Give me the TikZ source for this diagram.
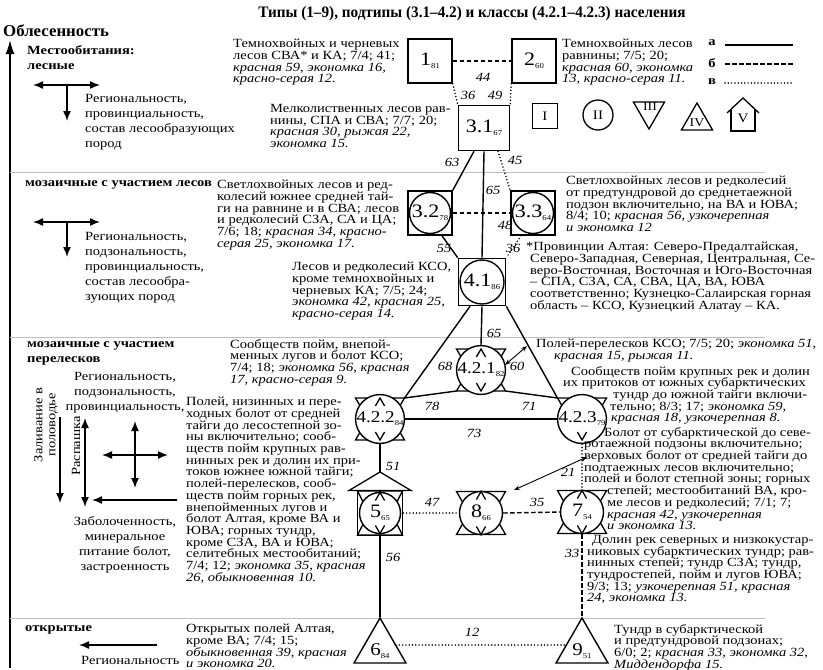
\documentclass[tikz,border=0pt]{standalone}
\usepackage{fontspec}
\setmainfont{Liberation Serif}[FakeStretch=1.16]
\newfontfamily\headfont{Liberation Serif}[FakeStretch=0.95]
\newfontfamily\oblfont{Liberation Serif}[FakeStretch=1.02]
\usetikzlibrary{arrows.meta,backgrounds,calc,shapes.geometric}
\pgfdeclarelayer{bottom}
\pgfsetlayers{bottom,background,main}
\newcommand{\NL}[2]{#1\raisebox{-3pt}{\fontsize{7.5}{7.5}\selectfont #2}}
\newcommand{\TrD}[3]{\begin{scope}[on background layer,shift={(#1.center)}]\draw[decor] (-#3,-#2) -- (#3,-#2) -- (0,#2) -- cycle;\end{scope}}
\newcommand{\TrU}[3]{\begin{scope}[on background layer,shift={(#1.center)}]\draw[decor] (-#3,#2) -- (#3,#2) -- (0,-#2) -- cycle;\end{scope}}
\newcommand{\MkV}[2]{\begin{scope}[shift={(#1.center)}]\draw[decor] (-4.6,#2-8) -- (0,#2) -- (4.6,#2-8);\end{scope}}
\newcommand{\MkA}[2]{\begin{scope}[shift={(#1.center)}]\draw[decor] (-4.6,-#2+8) -- (0,-#2) -- (4.6,-#2+8);\end{scope}}
\begin{document}
\begin{tikzpicture}[x=1pt,y=-1pt,
 every node/.style={inner sep=0pt},
 sq/.style={draw,line width=1.6pt,fill=white,minimum width=44pt,minimum height=44pt,font=\fontsize{19}{19}\selectfont},
 ci/.style={draw,circle,line width=1.4pt,fill=white,minimum size=42pt,font=\fontsize{16.5}{16.5}\selectfont},
 tri/.style={draw,regular polygon,regular polygon sides=3,line width=1.4pt,minimum size=60pt},
 solidc/.style={line width=1.4pt},
 dashc/.style={line width=1.4pt,dash pattern=on 4.5pt off 2.5pt},
 dotc/.style={line width=1.7pt,line cap=round,dash pattern=on 0pt off 3.3pt},
 lab/.style={font=\fontsize{12.5}{12}\selectfont\itshape},
 desc/.style={font=\fontsize{12.5}{11.7}\selectfont,align=left,anchor=north west},
 note/.style={font=\fontsize{12.5}{15}\selectfont,align=left,anchor=north west},
 hd/.style={font=\fontsize{12.5}{15}\selectfont\bfseries,align=left,anchor=north west},
 ttl/.style={font=\headfont\bfseries\fontsize{16}{16}\selectfont},
 sep/.style={gray!50,line width=0.8pt},
 arr/.style={line width=1.5pt,-{Latex[length=10pt,width=8pt]}},
 darr/.style={line width=1.5pt,{Latex[length=10pt,width=8pt]}-{Latex[length=10pt,width=8pt]}},
 tarr/.style={line width=0.9pt,{Stealth[length=6pt,width=4.5pt]}-{Stealth[length=6pt,width=4.5pt]}},
 decor/.style={line width=1.3pt,line join=miter},
]
\useasboundingbox (0,0) rectangle (823,670);
\begin{pgfonlayer}{bottom}
\fill[white] (0,0) rectangle (823,670);
\end{pgfonlayer}

% title and axis
\node[ttl] (title) at (472,14) {Типы (1–9), подтипы (3.1–4.2) и классы (4.2.1–4.2.3) населения};
\node[font=\oblfont\bfseries\fontsize{16.5}{16}\selectfont,anchor=west] (obl) at (3,31) {Облесенность};
\coordinate (ax0) at (10,668);
\coordinate (ax1) at (10,40);
\draw[line width=1.8pt,-{Latex[length=14pt,width=9pt]}] (ax0) -- (ax1);

% separators
\coordinate (s1a) at (10,172); \coordinate (s1b) at (765,172);
\coordinate (s2a) at (10,337); \coordinate (s2b) at (765,337);
\coordinate (s3a) at (10,618); \coordinate (s3b) at (765,618);
\draw[sep] (s1a) -- (s1b);
\draw[sep] (s2a) -- (s2b);
\draw[sep] (s3a) -- (s3b);

% ---------- section 1 left
\node[hd] (h1) at (27,45) {Местообитания:\\лесные};
\coordinate (t1l) at (33,85); \coordinate (t1r) at (100,85);
\coordinate (t1c) at (67,85); \coordinate (t1d) at (67,121);
\draw[darr] (t1l) -- (t1r);
\draw[arr] (t1c) -- (t1d);
\node[note] (r1) at (85,94) {Региональность,\\провинциальность,\\состав лесообразующих\\пород};

% ---------- section 2 left
\node[hd] (h2) at (25,180) {мозаичные с участием лесов};
\coordinate (t2l) at (33,222); \coordinate (t2r) at (100,222);
\coordinate (t2c) at (67,222); \coordinate (t2d) at (67,257);
\draw[darr] (t2l) -- (t2r);
\draw[arr] (t2c) -- (t2d);
\node[note] (r2) at (85,232) {Региональность,\\подзональность,\\провинциальность,\\состав лесообра-\\зующих пород};

% ---------- section 3 left
\node[hd] (h3) at (27,341) {мозаичные с участием\\перелесков};
\node[note,align=center,anchor=north] (r3) at (125,372) {Региональность,\\подзональность,\\провинциальность,};
\node[font=\fontsize{12.5}{13}\selectfont,rotate=90,align=center] (zal) at (46,425) {Заливание в\\половодье};
\node[font=\fontsize{12.5}{13}\selectfont,rotate=90] (rasp) at (76,446) {Распашка};
\coordinate (d1a) at (60,417); \coordinate (d1b) at (60,503);
\draw[arr] (d1a) -- (d1b);
\coordinate (d2a) at (85,418); \coordinate (d2b) at (85,507);
\draw[darr] (d2a) -- (d2b);
\coordinate (c1a) at (102,455); \coordinate (c1b) at (168,455);
\coordinate (c2a) at (135,421); \coordinate (c2b) at (135,488);
\draw[darr] (c1a) -- (c1b);
\draw[darr] (c2a) -- (c2b);
\coordinate (l3a) at (177,500); \coordinate (l3b) at (92,500);
\draw[arr] (l3a) -- (l3b);
\node[note,align=center,anchor=north] (z3) at (125,516) {Заболоченность,\\минеральное\\питание болот,\\застроенность};

% ---------- section 4 left
\node[hd,anchor=west] (h4) at (25,630) {открытые};
\coordinate (l4a) at (157,645); \coordinate (l4b) at (79,645);
\draw[arr] (l4a) -- (l4b);
\node[font=\fontsize{12.5}{13}\selectfont,anchor=west] (r4) at (81,660) {Региональность};

% ---------- legend
\node[font=\fontsize{12.5}{12}\selectfont\bfseries] (la) at (712,43) {а};
\node[font=\fontsize{12.5}{12}\selectfont\bfseries] (lb) at (712,63) {б};
\node[font=\fontsize{12.5}{12}\selectfont\bfseries] (lc) at (712,82) {в};
\coordinate (la1) at (725,45); \coordinate (la2) at (793,45);
\coordinate (lb1) at (725,64); \coordinate (lb2) at (793,64);
\coordinate (lc1) at (725,83); \coordinate (lc2) at (793,83);
\draw[solidc] (la1) -- (la2);
\draw[dashc] (lb1) -- (lb2);
\draw[dotc] (lc1) -- (lc2);
\node[draw,line width=1.3pt,minimum size=25pt,font=\fontsize{13}{13}\selectfont] (lg1) at (545,116) {I};
\node[draw,circle,line width=1.3pt,minimum size=30pt,font=\fontsize{13}{13}\selectfont] (lg2) at (598,115) {II};
\node[draw,regular polygon,regular polygon sides=3,shape border rotate=180,line width=1.3pt,minimum size=36pt] (lg3) at (649,111) {};
\node[font=\fontsize{12}{12}\selectfont] (lg3t) at (650,107) {III};
\node[draw,regular polygon,regular polygon sides=3,line width=1.3pt,minimum size=36pt] (lg4) at (697,121) {};
\node[font=\fontsize{12}{12}\selectfont] (lg4t) at (697,123) {IV};
\draw[decor] (727,113) -- (743,98) -- (759,113);
\draw[decor] (731,109.3) -- (731,131) -- (755,131) -- (755,109.3);
\node[font=\fontsize{13}{13}\selectfont] (lg5) at (743,118) {V};

% ---------- symbols
\node[sq] (n1) at (430,61) {\NL{1}{81}};
\node[sq] (n2) at (534,61) {\NL{2}{60}};
\node[sq,minimum width=51pt,minimum height=45pt] (n31) at (484,128) {\NL{3.1}{67}};
\node[sq] (n32) at (430,213) {};
\node[ci,minimum size=41pt,font=\fontsize{19}{19}\selectfont] (c32) at (n32.center) {\NL{3.2}{78}};
\node[sq] (n33) at (533,213) {};
\node[ci,minimum size=41pt,font=\fontsize{19}{19}\selectfont] (c33) at (n33.center) {\NL{3.3}{64}};
\node[sq,minimum width=47pt,minimum height=47pt] (n41) at (482,282) {};
\node[ci,minimum size=44pt,font=\fontsize{19}{19}\selectfont] (c41) at (n41.center) {\NL{4.1}{86}};

\node[ci] (n421) at (481,370) {\NL{4.2.1}{82}};
\TrD{n421}{21}{24.5}\TrU{n421}{21}{24.5}\MkV{n421}{21}\MkA{n421}{21}
\node[ci] (n422) at (380,419) {\NL{4.2.2}{84}};
\TrD{n422}{21}{24.5}\TrU{n422}{21}{24.5}\MkV{n422}{21}\MkA{n422}{21}
\node[ci] (n423) at (582,419) {\NL{4.2.3}{79}};
\TrD{n423}{21}{24.5}\MkV{n423}{21}

\node[draw,line width=1.6pt,minimum size=45pt] (n5) at (380,513) {};
\node[ci,minimum size=41pt,font=\fontsize{19}{19}\selectfont] (c5) at (n5.center) {\NL{5}{65}};
\TrD{n5}{22}{22.5}\TrU{n5}{22}{22.5}\MkV{c5}{20.5}\MkA{c5}{20.5}
\coordinate (r5) at (380,472);
\coordinate (r5l) at (349,490.5);
\coordinate (r5r) at (411,490.5);
\draw[decor] (r5l) -- (r5) -- (r5r) -- cycle;

\node[ci,minimum size=43pt,font=\fontsize{19}{19}\selectfont] (n8) at (481,513) {\NL{8}{66}};
\TrD{n8}{21.5}{24.5}\TrU{n8}{21.5}{24.5}\MkV{n8}{21.5}\MkA{n8}{21.5}
\node[ci,minimum size=43pt,font=\fontsize{19}{19}\selectfont] (n7) at (582,512) {\NL{7}{54}};
\TrD{n7}{21.5}{24.5}\TrU{n7}{21.5}{24.5}\MkV{n7}{21.5}\MkA{n7}{21.5}

\node[tri] (n6) at (380,648) {};
\node[font=\fontsize{18}{18}\selectfont] (n6t) at (380,651) {\NL{6}{84}};
\node[tri] (n9) at (582,648) {};
\node[font=\fontsize{18}{18}\selectfont] (n9t) at (582,651) {\NL{9}{51}};

% corner coordinates
\coordinate (n422ne) at (404.5,398);
\coordinate (n421sw) at (456.5,391);
\coordinate (n421se) at (505.5,391);
\coordinate (n423nw) at (557.5,398);
\coordinate (e6) at (396,645);
\coordinate (w9) at (566,645);

% ---------- connectors
\draw[dashc] (n1.east) -- (n2.west);
\draw[dotc] (n1.south east) -- (n31.north west);
\draw[dotc] (n2.south west) -- (n31.north east);
\draw[solidc] ([xshift=-10pt]n31.south) -- (n32.north east);
\draw[solidc] (n31.south) -- (n41.north);
\draw[dotc] ([xshift=14pt]n31.south) -- (n33.north west);
\draw[dashc] (n32.east) -- (n33.west);
\draw[solidc] ([xshift=12pt]n32.south) -- (n41.north west);
\draw[dotc] ([xshift=-12pt]n33.south) -- (n41.north east);
\draw[solidc] (n41.south) -- (n421.north);
\draw[solidc] ([xshift=-12pt]n41.south) -- (n422ne);
\draw[solidc] (n41.south east) -- (n423nw);
\draw[solidc] (n422ne) -- (n421sw);
\draw[solidc] (n421se) -- (n423nw);
\draw[solidc] (n422.east) -- (n423.west);
\draw[solidc] (n422.south) -- (r5);
\draw[solidc] (n5.south) -- (n6.corner 1);
\draw[dotc] (n5.east) -- (n8.west);
\draw[dashc] (n8.east) -- (n7.west);
\draw[dotc] (n423.south) -- (n7.north);
\draw[dashc] (n7.south) -- (n9.corner 1);
\draw[dotc] (e6) -- (w9);
\coordinate (a1s) at (505,365); \coordinate (a1e) at (527,346);
\draw[tarr] (a1s) -- (a1e);
\coordinate (a2s) at (514,490); \coordinate (a2e) at (587,457);
\draw[tarr] (a2s) -- (a2e);

% ---------- connector labels
\node[lab] (q44) at (483,77) {44};
\node[lab] (q36a) at (468,95) {36};
\node[lab] (q49) at (495,95) {49};
\node[lab] (q63) at (452,162) {63};
\node[lab] (q45) at (515,160) {45};
\node[lab] (q65a) at (493,190) {65};
\node[lab] (q48) at (505,225) {48};
\node[lab] (q55) at (444,248) {55};
\node[lab] (q36b) at (513,248) {36};
\node[lab] (q65b) at (494,333) {65};
\node[lab] (q68) at (445,366) {68};
\node[lab] (q60) at (517,366) {60};
\node[lab] (q78) at (432,406) {78};
\node[lab] (q71) at (529,406) {71};
\node[lab] (q73) at (474,433) {73};
\node[lab] (q51) at (393,466) {51};
\node[lab] (q47) at (432,502) {47};
\node[lab] (q35) at (537,502) {35};
\node[lab] (q21) at (568,472) {21};
\node[lab] (q56) at (393,557) {56};
\node[lab] (q33) at (572,553) {33};
\node[lab] (q12) at (472,632) {12};

% ---------- descriptions
\node[desc] (A1) at (233,39) {Темнохвойных и черневых\\лесов СВА* и КА; 7/4; 41;\\\textit{красная 59, экономка 16,}\\\textit{красно-серая 12.}};
\node[desc] (A2) at (562,39) {Темнохвойных лесов\\равнины; 7/5; 20;\\\textit{красная 60, экономка}\\\textit{13, красно-серая 11.}};
\node[desc] (A3) at (270,104) {Мелколиственных лесов рав-\\нины, СПА и СВА; 7/7; 20;\\\textit{красная 30, рыжая 22,}\\\textit{экономка 15.}};
\node[desc] (B1) at (217,180) {Светлохвойных лесов и ред-\\колесий южнее средней тай-\\ги на равнине и в СВА; лесов\\и редколесий СЗА, СА и ЦА;\\7/6; 18; \textit{красная 34, красно-}\\\textit{серая 25, экономка 17.}};
\node[desc] (B3) at (566,176) {Светлохвойных лесов и редколесий\\от предтундровой до среднетаежной\\подзон включительно, на ВА и ЮВА;\\8/4; 10; \textit{красная 56, узкочерепная}\\\textit{и экономка 12}};
\node[desc] (FN) at (526,242) {*Провинции Алтая: Северо-Предалтайская,\\\hspace*{4pt}Северо-Западная, Северная, Центральная, Се-\\\hspace*{4pt}веро-Восточная, Восточная и Юго-Восточная\\\hspace*{4pt}– СПА, СЗА, СА, СВА, ЦА, ВА, ЮВА\\\hspace*{4pt}соответственно; Кузнецко-Салаирская горная\\\hspace*{4pt}область – КСО, Кузнецкий Алатау – КА.};
\node[desc] (B2) at (292,262) {Лесов и редколесий КСО,\\кроме темнохвойных и\\черневых КА; 7/5; 24;\\\textit{экономка 42, красная 25,}\\\textit{красно-серая 14.}};
\node[desc] (C1) at (230,339) {Сообществ пойм, внепой-\\менных лугов и болот КСО;\\7/4; 18; \textit{экономка 56, красная}\\\textit{17, красно-серая 9.}};
\node[desc] (C2) at (536,339) {Полей-перелесков КСО; 7/5; 20; \textit{экономка 51,}\\\hspace*{18pt}\textit{красная 15, рыжая 11.}};
\node[desc] (C4) at (563,366) {\hspace*{8pt}Сообществ пойм крупных рек и долин\\их притоков от южных субарктических\\\hspace*{50pt}тундр до южной тайги включи-\\\hspace*{47pt}тельно; 8/3; 17; \textit{экономка 59,}\\\hspace*{48pt}\textit{красная 18, узкочерепная 8.}};
\node[desc] (C3) at (186,397) {Полей, низинных и пере-\\ходных болот от средней\\тайги до лесостепной зо-\\ны включительно; сооб-\\ществ пойм крупных рав-\\нинных рек и долин их при-\\токов южнее южной тайги;\\полей-перелесков, сооб-\\ществ пойм горных рек,\\внепойменных лугов и\\болот Алтая, кроме ВА и\\ЮВА; горных тундр,\\кроме СЗА, ВА и ЮВА;\\селитебных местообитаний;\\7/4; 12; \textit{экономка 35, красная}\\\textit{26, обыкновенная 10.}};
\node[desc] (C5) at (584,427) {\hspace*{20pt}Болот от субарктической до севе-\\ротаежной подзоны включительно;\\верховых болот от средней тайги до\\подтаежных лесов включительно;\\полей и болот степной зоны; горных\\\hspace*{23pt}степей; местообитаний ВА, кро-\\\hspace*{23pt}ме лесов и редколесий; 7/1; 7;\\\hspace*{23pt}\textit{красная 42, узкочерепная}\\\hspace*{23pt}\textit{и экономка 13.}};
\node[desc] (C6) at (587,535) {\hspace*{5pt}Долин рек северных и низкокустар-\\никовых субарктических тундр; рав-\\нинных степей; тундр СЗА; тундр,\\тундростепей, пойм и лугов ЮВА;\\9/3; 13; \textit{узкочерепная 51, красная}\\\textit{24, экономка 13.}};
\node[desc] (C7) at (186,624) {Открытых полей Алтая,\\кроме ВА; 7/4; 15;\\\textit{обыкновенная 39, красная}\\\textit{и экономка 20.}};
\node[desc] (C8) at (614,624) {Тундр в субарктической\\и предтундровой подзонах;\\6/0; 2; \textit{красная 33, экономка 32,}\\\textit{Миддендорфа 15.}};
\end{tikzpicture}
\end{document}
